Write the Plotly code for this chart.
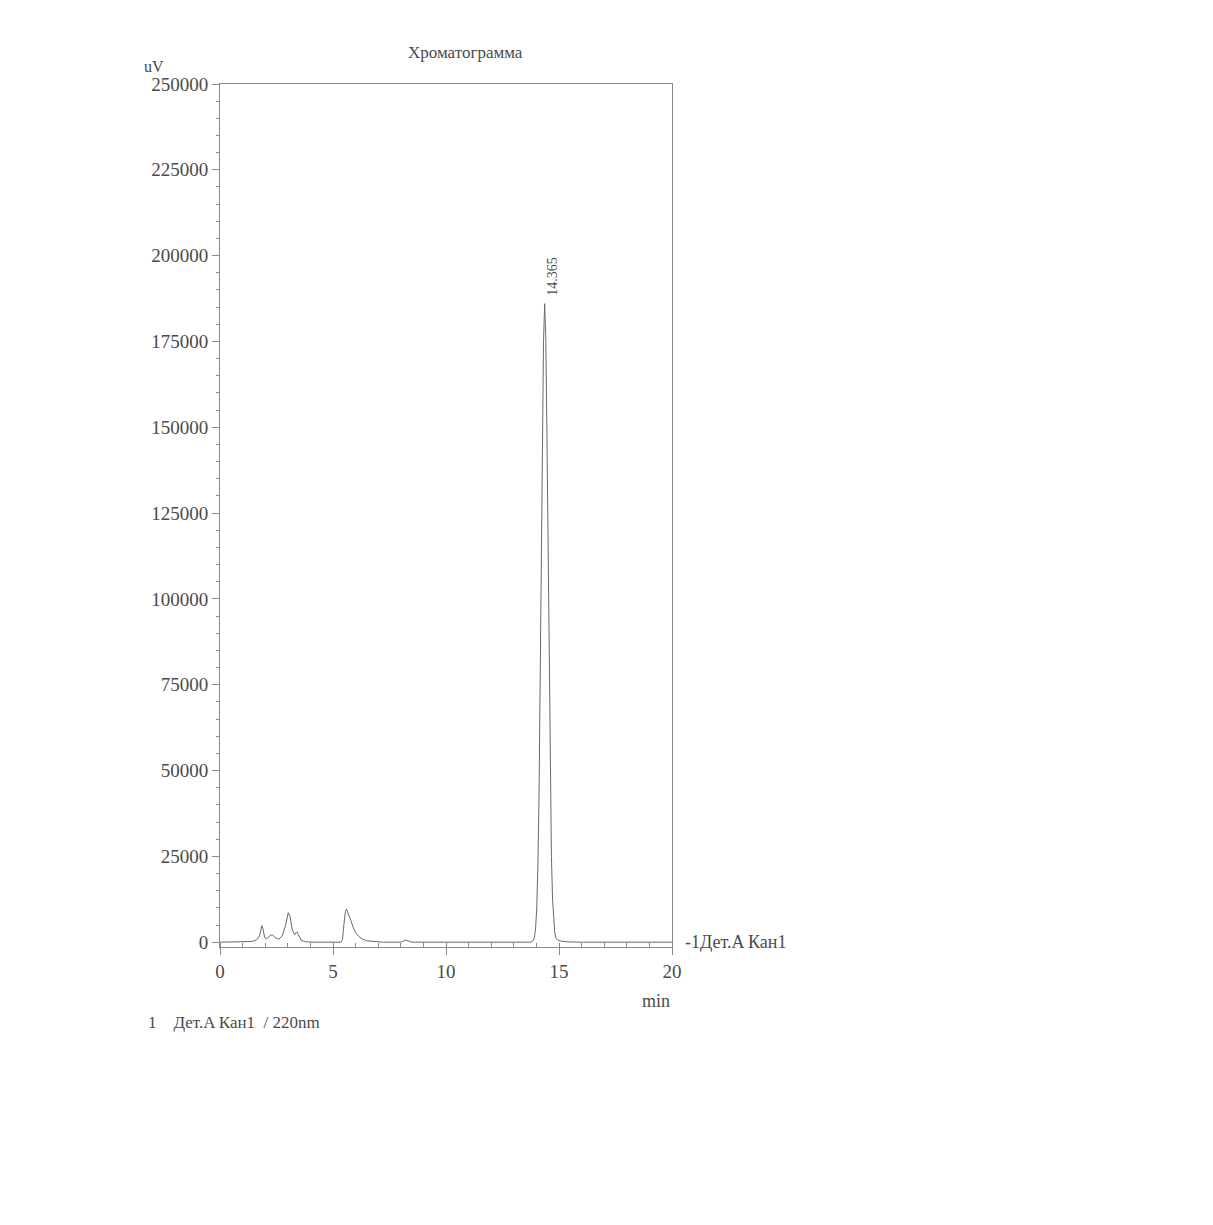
import plotly.graph_objects as go

# Detector A, channel 1 (220 nm) signal: retention time (min) and response (uV)
time_min = [
    0.0, 1.0, 1.4, 1.6, 1.75, 1.85, 1.9, 1.97, 2.05, 2.2, 2.3, 2.45, 2.6, 2.75,
    2.9, 3.02, 3.1, 3.2, 3.3, 3.4, 3.5, 3.6, 3.8, 4.2, 5.35, 5.42, 5.48, 5.55,
    5.6, 5.68, 5.8, 5.9, 6.0, 6.15, 6.3, 6.5, 6.8, 7.2, 8.0, 8.1, 8.22, 8.35,
    8.5, 13.75, 13.865, 13.915, 13.965, 14.015, 14.065, 14.115, 14.165, 14.215,
    14.265, 14.315, 14.365, 14.415, 14.465, 14.515, 14.565, 14.615, 14.665,
    14.715, 14.765, 14.815, 14.865, 14.95, 15.1, 15.4, 16.0, 20.0,
]
signal_uv = [
    0, 0, 200, 600, 1800, 4800, 4000, 1500, 900, 1800, 2200, 1300, 900, 1800,
    4800, 8600, 7500, 3500, 2200, 3000, 1600, 500, 100, 0, 0, 800, 5000, 9000,
    9600, 8400, 6200, 4200, 2800, 1600, 900, 400, 150, 0, 0, 300, 650, 300,
    0, 0, 500, 1500, 4150, 10000, 21900, 42000, 71800, 109000,
    146600, 175200, 186000, 176000, 149000, 113000, 76000, 46000, 25000,
    12500, 5800, 2600, 1200, 600, 300, 100, 0, 0,
]

peak_rt = 14.365
peak_height = 186000

y_ticks = [0, 25000, 50000, 75000, 100000, 125000, 150000, 175000, 200000, 225000, 250000]
x_ticks = [0, 5, 10, 15, 20]

Y_MIN, Y_MAX = -1400, 250000

FONT = "Liberation Serif, Times New Roman, serif"
AXIS_COLOR = "#8a8a8a"
TEXT_COLOR = "#4a4a4a"

fig = go.Figure()
fig.add_trace(go.Scatter(
    x=time_min, y=signal_uv, mode="lines",
    line=dict(color="#6a6a6a", width=1),
    hoverinfo="x+y", showlegend=False,
))

fig.update_layout(
    width=1213, height=1225,
    margin=dict(l=220, r=541, t=84, b=278),
    paper_bgcolor="white", plot_bgcolor="white",
    font=dict(family=FONT, size=19, color=TEXT_COLOR),
    showlegend=False,
)

fig.update_xaxes(
    range=[0, 20], tickvals=x_ticks, ticktext=[str(v) for v in x_ticks],
    showgrid=False, zeroline=False,
    showline=True, linecolor=AXIS_COLOR, linewidth=1, mirror=True,
    ticks="outside", ticklen=7, tickcolor=AXIS_COLOR,
    minor=dict(dtick=1, ticks="inside", ticklen=4, tickcolor=AXIS_COLOR),
    tickfont=dict(size=19, color=TEXT_COLOR),
)
fig.update_yaxes(
    range=[Y_MIN, Y_MAX], tickvals=y_ticks, ticktext=[str(v) for v in y_ticks],
    showgrid=False, zeroline=False,
    showline=True, linecolor=AXIS_COLOR, linewidth=1, mirror=True,
    ticks="outside", ticklen=7, tickcolor=AXIS_COLOR,
    minor=dict(dtick=5000, ticks="outside", ticklen=3, tickcolor=AXIS_COLOR),
    tickfont=dict(size=19, color=TEXT_COLOR),
)

# paper-space height of the zero baseline, for the trace label beside the frame
zero_paper = (0 - Y_MIN) / (Y_MAX - Y_MIN)

annotations = [
    # chart title
    dict(text="Хроматограмма", xref="paper", yref="paper", x=0.544, y=1.037,
         xanchor="center", yanchor="middle", showarrow=False,
         font=dict(size=17, color=TEXT_COLOR)),
    # axis units
    dict(text="uV", xref="paper", yref="paper", x=-0.172, y=1.02,
         xanchor="left", yanchor="middle", showarrow=False,
         font=dict(size=16, color=TEXT_COLOR)),
    dict(text="min", xref="paper", yref="paper", x=1.0, y=-0.062,
         xanchor="right", yanchor="middle", showarrow=False,
         font=dict(size=18, color=TEXT_COLOR)),
    # trace label at the right end of the baseline
    dict(text="-1Дет.A Кан1", xref="paper", yref="paper", x=1.024, y=zero_paper,
         xanchor="left", yanchor="middle", showarrow=False,
         font=dict(size=18, color=TEXT_COLOR)),
    # channel legend under the plot
    dict(text="1&nbsp;&nbsp;&nbsp;&nbsp;Дет.A Кан1&nbsp;&nbsp;/&nbsp;220nm",
         xref="paper", yref="paper", x=-0.163, y=-0.088,
         xanchor="left", yanchor="middle", showarrow=False,
         font=dict(size=17, color=TEXT_COLOR)),
    # retention time of the main peak
    dict(text=f"{peak_rt:.3f}", xref="x", yref="y", x=peak_rt, y=peak_height,
         xanchor="center", yanchor="bottom", xshift=8, yshift=6,
         textangle=-90, showarrow=False,
         font=dict(size=14, color=TEXT_COLOR)),
]
fig.update_layout(annotations=annotations)

fig.write_html("out.html")
